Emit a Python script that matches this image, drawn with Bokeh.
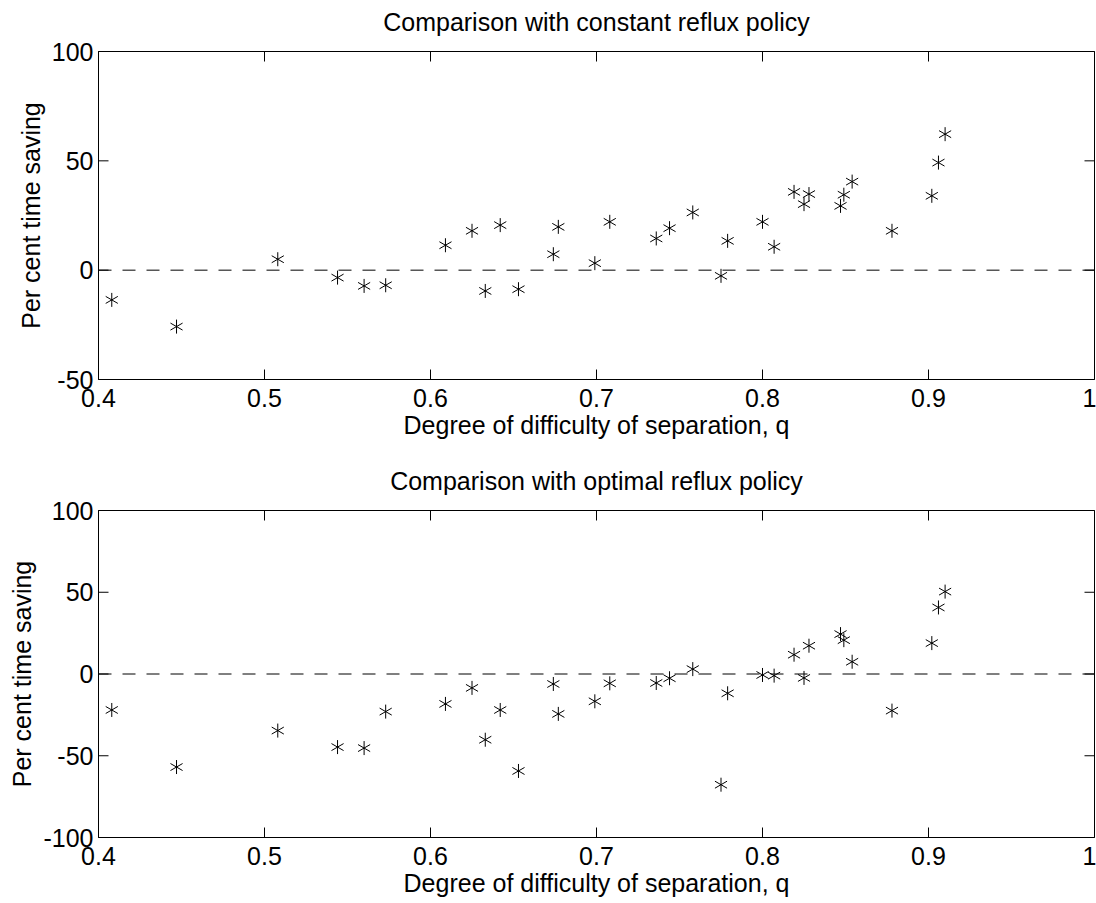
import math
from bokeh.plotting import figure
from bokeh.models import Span, FixedTicker, LinearAxis
from bokeh.layouts import column
from bokeh.embed import file_html
from bokeh.resources import INLINE

# ---- data ----
q = [0.408, 0.447, 0.508, 0.544, 0.560, 0.573, 0.609, 0.625, 0.633, 0.642, 0.653,
     0.674, 0.677, 0.699, 0.708, 0.736, 0.744, 0.758, 0.775, 0.779, 0.800, 0.807,
     0.819, 0.825, 0.828, 0.847, 0.849, 0.854, 0.878, 0.902, 0.906, 0.910]
saving_constant = [-13.6, -25.8, 5.0, -3.4, -7.2, -6.9, 11.4, 18.0, -9.5, 20.6, -8.7,
                   7.3, 19.8, 3.2, 22.1, 14.5, 19.2, 26.4, -2.6, 13.4, 22.1, 10.7,
                   35.8, 30.2, 34.8, 29.4, 34.5, 40.5, 18.0, 34.0, 49.2, 62.2]
saving_optimal = [-22.0, -56.9, -34.6, -44.7, -45.3, -23.0, -18.3, -8.5, -40.2, -22.0, -59.3,
                  -6.1, -24.4, -16.7, -5.7, -5.5, -2.6, 3.0, -67.7, -11.8, -0.6, -1.0,
                  11.8, -2.4, 17.3, 24.4, 20.7, 7.5, -22.4, 18.9, 40.7, 50.4]

x_ticks = [0.4, 0.5, 0.6, 0.7, 0.8, 0.9, 1.0]
x_tick_labels = ["0.4", "0.5", "0.6", "0.7", "0.8", "0.9", "1"]
y_ticks_top = [-50, 0, 50, 100]
y_tick_labels_top = ["-50", "0", "50", "100"]
y_ticks_bottom = [-100, -50, 0, 50, 100]
y_tick_labels_bottom = ["-100", "-50", "0", "50", "100"]

titles = ["Comparison with constant reflux policy", "Comparison with optimal reflux policy"]
x_label = "Degree of difficulty of separation, q"
y_label = "Per cent time saving"

FONT = "Liberation Sans"
FS = "25px"
W = 1096
LEFT, RIGHT = 98, 2
TICK = 10


def style_axis(ax, ticks, labels):
    ax.ticker = FixedTicker(ticks=ticks)
    ax.major_label_overrides = dict(zip(ticks, labels))
    ax.major_tick_in = 0
    ax.major_tick_out = 0
    ax.minor_tick_line_color = None
    ax.axis_line_color = "black"
    ax.major_tick_line_color = "black"
    ax.major_label_text_font = FONT
    ax.major_label_text_color = "black"
    ax.major_label_text_font_size = FS
    ax.axis_label_text_font = FONT
    ax.axis_label_text_font_size = FS
    ax.axis_label_text_font_style = "normal"
    ax.axis_label_text_color = "black"


def make_plot(yvals, xr, yr, yticks, ylabels, title, height, top, bottom):
    fw = W - LEFT - RIGHT
    fh = height - top - bottom
    p = figure(width=W, height=height, x_range=xr, y_range=yr,
               output_backend="svg", toolbar_location=None,
               min_border_left=LEFT, min_border_right=RIGHT,
               min_border_top=top, min_border_bottom=bottom,
               x_axis_label=x_label, y_axis_label=y_label)
    p.grid.visible = False
    p.outline_line_color = "black"
    p.outline_line_alpha = 1.0
    p.background_fill_color = "white"
    p.border_fill_color = "white"

    style_axis(p.xaxis[0], x_ticks, x_tick_labels)
    p.xaxis[0].major_label_standoff = 9
    p.xaxis[0].axis_label_standoff = 1
    style_axis(p.yaxis[0], yticks, ylabels)
    p.yaxis[0].major_label_standoff = 5
    p.yaxis[0].axis_label_standoff = 4

    # title: label of a tick-less axis above the frame
    title_axis = LinearAxis(ticker=FixedTicker(ticks=[]), axis_label=title)
    title_axis.major_tick_in = 0
    title_axis.major_tick_out = 0
    title_axis.minor_tick_line_color = None
    title_axis.major_label_standoff = 0
    title_axis.axis_line_color = "black"
    title_axis.axis_label_text_font = FONT
    title_axis.axis_label_text_font_size = FS
    title_axis.axis_label_text_font_style = "normal"
    title_axis.axis_label_text_color = "black"
    title_axis.axis_label_standoff = 16
    p.add_layout(title_axis, "above")

    # inward tick marks on all four sides of the box
    dy = TICK * (yr[1] - yr[0]) / fh
    dx = TICK * (xr[1] - xr[0]) / fw
    n = len(x_ticks)
    p.segment(x0=x_ticks, y0=[yr[0]] * n, x1=x_ticks, y1=[yr[0] + dy] * n,
              line_color="black", line_width=1)
    p.segment(x0=x_ticks, y0=[yr[1]] * n, x1=x_ticks, y1=[yr[1] - dy] * n,
              line_color="black", line_width=1)
    m = len(yticks)
    p.segment(x0=[xr[0]] * m, y0=yticks, x1=[xr[0] + dx] * m, y1=yticks,
              line_color="black", line_width=1)
    p.segment(x0=[xr[1]] * m, y0=yticks, x1=[xr[1] - dx] * m, y1=yticks,
              line_color="black", line_width=1)

    p.add_layout(Span(location=0, dimension="width", line_color="black",
                      line_width=1, line_dash="13 11"))
    for ang in (math.pi / 2, math.pi / 6, -math.pi / 6):
        p.scatter(q, yvals, marker="dash", angle=ang, size=14,
                  line_color="black", line_width=1)
    return p


p1 = make_plot(saving_constant, (0.4, 1.0), (-50, 100), y_ticks_top, y_tick_labels_top,
               titles[0], 450, 51, 71)
p2 = make_plot(saving_optimal, (0.4, 1.0), (-100, 100), y_ticks_bottom, y_tick_labels_bottom,
               titles[1], 453, 60, 66)

layout = column(p1, p2, spacing=0)
open("out.html", "w").write(file_html(layout, INLINE))
